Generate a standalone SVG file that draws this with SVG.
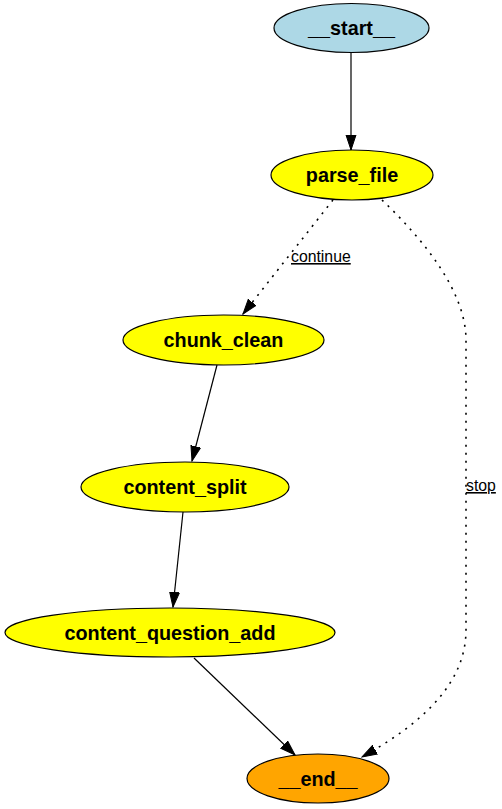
<svg xmlns="http://www.w3.org/2000/svg" width="502" height="809" viewBox="0 0 502 809">
<style>
.node ellipse{stroke:#000;stroke-width:1.2}
.node text{font-family:"Liberation Sans",Arial,Helvetica,sans-serif;font-weight:bold;font-size:19.8px;text-anchor:middle;fill:#000}
.edge{fill:none;stroke:#000;stroke-width:1.2}
.dot{stroke-dasharray:2,6;stroke-width:1.6}
.lbl{font-family:"Liberation Sans",Arial,Helvetica,sans-serif;font-size:15.8px;fill:#000;text-decoration:underline}
</style>
<defs>
<marker id="arr" markerUnits="userSpaceOnUse" markerWidth="16" markerHeight="12" refX="15" refY="5.5" orient="auto">
<polygon points="0,0.5 15,5.5 0,10.5" fill="#000" stroke="#000" stroke-width="1"/>
</marker>
</defs>
<rect width="502" height="809" fill="#fff"/>
<g id="connectors">
<path class="edge" d="M351,52 L351,150" marker-end="url(#arr)"/>
<path class="edge dot" d="M333,200 L243,314" marker-end="url(#arr)"/>
<path class="edge dot" d="M382,200 C424,240 466,292 466,340 L466,630 C466,690 410,730 362,757" marker-end="url(#arr)"/>
<path class="edge" d="M217,365 L192,461" marker-end="url(#arr)"/>
<path class="edge" d="M183,512 L173,607" marker-end="url(#arr)"/>
<path class="edge" d="M194,658 L295,755" marker-end="url(#arr)"/>
<text class="lbl" x="291" y="262">continue</text>
<text class="lbl" x="466" y="491">stop</text>
</g>
<g id="start" class="node"><ellipse cx="351.5" cy="28" rx="77.5" ry="24.5" fill="#add8e6"/><text x="351.5" y="35">__start__</text></g>
<g id="parse_file" class="node"><ellipse cx="352" cy="175" rx="81" ry="25" fill="#ffff00"/><text x="352" y="182">parse_file</text></g>
<g id="chunk_clean" class="node"><ellipse cx="223.5" cy="340" rx="100.5" ry="25" fill="#ffff00"/><text x="223.5" y="347">chunk_clean</text></g>
<g id="content_split" class="node"><ellipse cx="185" cy="487" rx="104" ry="25" fill="#ffff00"/><text x="185" y="494">content_split</text></g>
<g id="content_question_add" class="node"><ellipse cx="170" cy="632.5" rx="165" ry="24.5" fill="#ffff00"/><text x="170" y="639.5">content_question_add</text></g>
<g id="end" class="node"><ellipse cx="318" cy="778.5" rx="71" ry="24.5" fill="#ffa500"/><text x="318" y="785.5">__end__</text></g>
</svg>
